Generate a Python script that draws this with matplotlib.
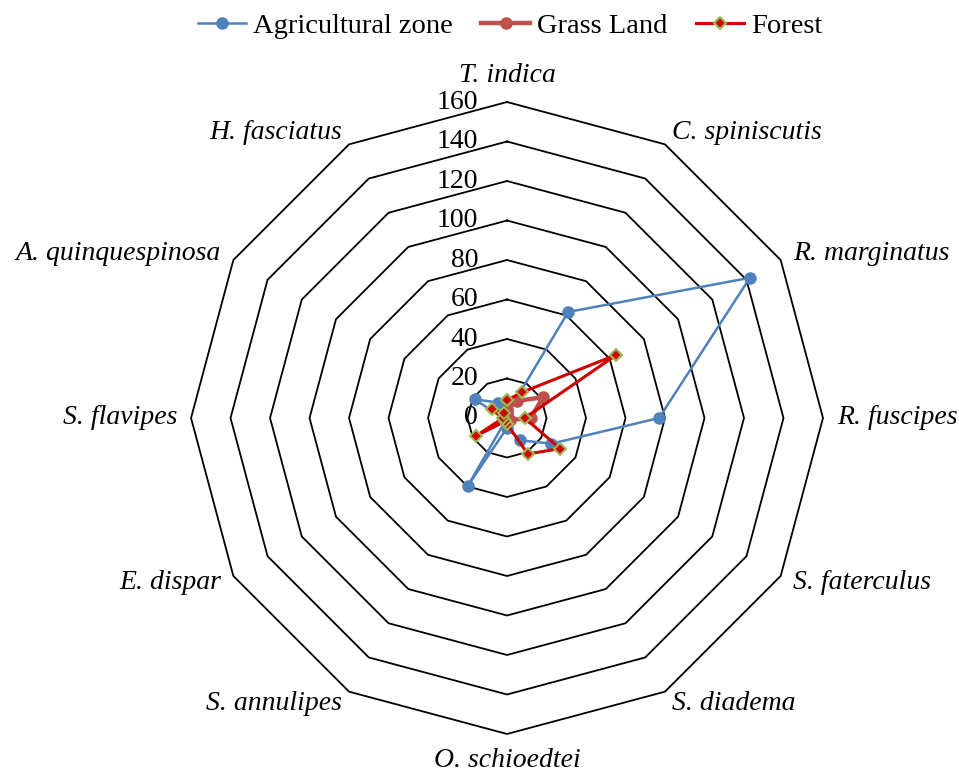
import numpy as np
import matplotlib
matplotlib.use('Agg')
import matplotlib.pyplot as plt
import matplotlib.transforms as mtransforms

# Kategorien (im Uhrzeigersinn ab oben)
categories = ['T. indica', 'C. spiniscutis', 'R. marginatus', 'R. fuscipes',
              'S. faterculus', 'S. diadema', 'O. schioedtei', 'S. annulipes',
              'E. dispar', 'S. flavipes', 'A. quinquespinosa', 'H. fasciatus']

agricultural = [2, 62, 142, 77, 26, 13, 5, 40, 0, 2, 19, 9]
grass_land = [4, 10, 21, 12, 2, 1, 1, 1, 1, 1, 2, 2]
forest = [9, 15, 64, 9, 31, 21, 3, 2, 18, 2, 9, 3]

ring_values = [0, 20, 40, 60, 80, 100, 120, 140, 160]


def plot():
    '''Radar-Diagramm nachbauen'''
    plt.rcParams['font.family'] = ['Liberation Serif', 'DejaVu Serif']

    fig = plt.figure(figsize=(9.59, 7.74), dpi=100)
    ax = fig.add_axes([0.1992, 0.0517, 0.659, 0.8165], projection='polar')
    ax.set_theta_zero_location('N')
    ax.set_theta_direction(-1)
    ax.set_ylim(0, 160)
    ax.set_axis_off()

    n = len(categories)
    angles = np.arange(n) * 2 * np.pi / n
    closed = np.append(angles, angles[0])

    # Gitter als Zwoelfeck
    for r in ring_values[1:]:
        ax.plot(closed, [r] * (n + 1), color='black', lw=1.3, zorder=1, clip_on=False)

    # Achsenbeschriftung links der Mittelachse
    lab_tr = mtransforms.offset_copy(ax.transData, fig=fig, x=-29, y=0, units='dots')
    for r in ring_values:
        ax.text(0, r, str(r), transform=lab_tr, ha='right', va='center', fontsize=20)

    # Kategorienamen
    for ang, name in zip(angles, categories):
        s, c = np.sin(ang), np.cos(ang)
        ha = 'left' if s > 0.1 else ('right' if s < -0.1 else 'center')
        if abs(s) < 0.1:
            va = 'bottom' if c > 0 else 'top'
        else:
            va = 'center'
        tr = mtransforms.offset_copy(ax.transData, fig=fig, x=14 * s, y=14 * c, units='dots')
        ax.text(ang, 160, name, transform=tr, ha=ha, va=va, fontsize=20,
                style='italic', clip_on=False)

    def close(v):
        return list(v) + [v[0]]

    ax.plot(closed, close(agricultural), '-o', color='#4F81BD', lw=1.8,
            markersize=8, label='Agricultural zone', zorder=3, clip_on=False)
    ax.plot(closed, close(grass_land), '-o', color='#C0504D', lw=3.2,
            markersize=8, label='Grass Land', zorder=4, clip_on=False)
    ax.plot(closed, close(forest), '-D', color='#D00000', lw=2.2,
            markersize=6.5, markerfacecolor='#D00000', markeredgecolor='#9BBB59',
            markeredgewidth=1.5, label='Forest', zorder=5, clip_on=False)

    # Legende
    fig.legend(loc='center', bbox_to_anchor=(510 / 959, 1 - 26 / 774), ncol=3,
               frameon=False, fontsize=20.5, handlelength=1.7, handletextpad=0.25,
               columnspacing=1.0, borderpad=0)

    fig.savefig('out.png', dpi=100)


def main():
    plot()


if __name__ == "__main__":
    main()
